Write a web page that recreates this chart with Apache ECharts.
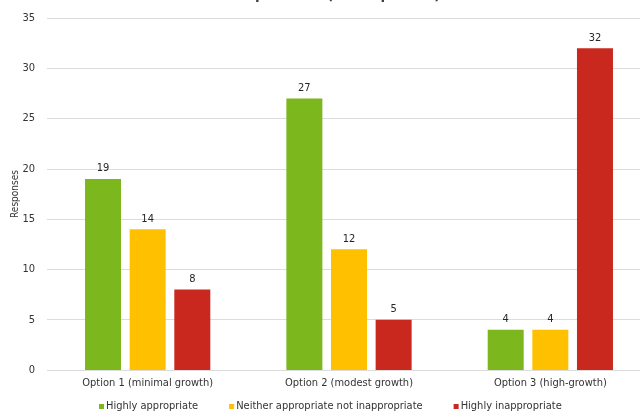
<!DOCTYPE html>
<html>
<head>
<meta charset="utf-8">
<script src="https://cdn.jsdelivr.net/npm/echarts@6/dist/echarts.min.js"></script>
<style>
  html, body { margin: 0; padding: 0; background: #ffffff; }
  #chart { width: 640px; height: 419px; }
</style>
</head>
<body>
<div id="chart"></div>
<script>
// Survey responses per growth option
const categories = ['Option 1 (minimal growth)', 'Option 2 (modest growth)', 'Option 3 (high-growth)'];
const seriesNames = ['Highly appropriate', 'Neither appropriate not inappropriate', 'Highly inappropriate'];
const highlyAppropriate = [19, 27, 4];
const neitherAppropriate = [14, 12, 4];
const highlyInappropriate = [8, 5, 32];
const yTicks = [0, 5, 10, 15, 20, 25, 30, 35];
const colors = ['#7DB71E', '#FFC000', '#C8281D'];

const FONT = '"DejaVu Sans Condensed", "DejaVu Sans", "Liberation Sans", sans-serif';
const values = [highlyAppropriate, neitherAppropriate, highlyInappropriate];

const chart = echarts.init(document.getElementById('chart'), null, { renderer: 'canvas' });

chart.setOption({
  backgroundColor: '#ffffff',
  animation: false,
  textStyle: { fontFamily: FONT },
  title: {
    text: 'should plan for? (45 responses)',
    left: 'center',
    top: -17,
    textStyle: { fontFamily: FONT, fontSize: 15, fontWeight: 'bold', color: '#404040' }
  },
  grid: { left: 47, right: -11, top: 18, bottom: 49, containLabel: false, outerBoundsMode: 'none' },
  legend: {
    bottom: 2,
    left: 94,
    itemWidth: 5,
    itemHeight: 5,
    itemGap: 31,
    icon: 'rect',
    textStyle: { fontFamily: FONT, fontSize: 11, color: '#333333', padding: [0, 0, 0, -3] },
    data: seriesNames
  },
  xAxis: {
    type: 'category',
    data: categories,
    axisLine: { show: false },
    axisTick: { show: false },
    axisLabel: { fontFamily: FONT, fontSize: 11, color: '#333333', margin: 8 }
  },
  yAxis: {
    type: 'value',
    min: yTicks[0],
    max: yTicks[yTicks.length - 1],
    interval: 5,
    name: 'Responses',
    nameLocation: 'middle',
    nameGap: 27,
    nameMoveOverlap: false,
    nameTextStyle: { fontFamily: FONT, fontSize: 10, color: '#333333' },
    axisLine: { show: false },
    axisTick: { show: false },
    axisLabel: { fontFamily: FONT, fontSize: 11, color: '#333333', margin: 12 },
    splitLine: { lineStyle: { color: '#dcdcdc', width: 1 } }
  },
  series: seriesNames.map((name, i) => ({
    name: name,
    type: 'bar',
    data: values[i],
    barWidth: 36,
    barGap: '24%',
    itemStyle: { color: colors[i] },
    label: {
      show: true,
      position: 'top',
      distance: 5,
      fontFamily: FONT,
      fontSize: 11,
      color: '#262626'
    }
  }))
});
</script>
</body>
</html>
